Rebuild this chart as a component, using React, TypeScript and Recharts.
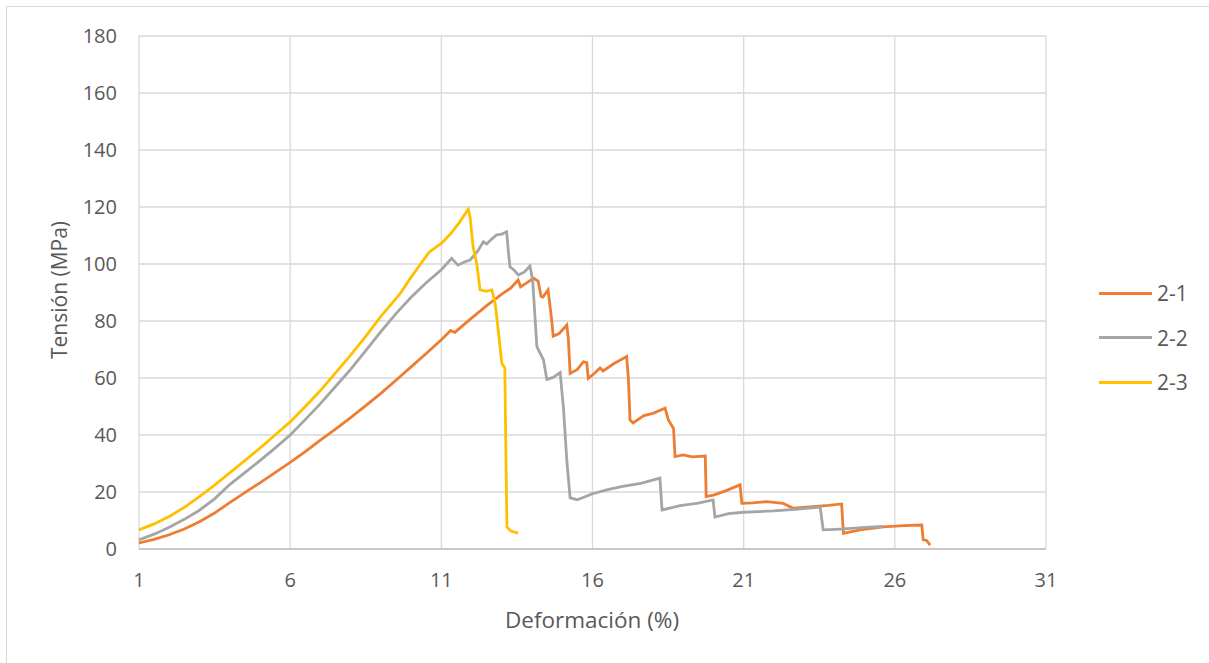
import React from 'react';
import { LineChart, Line, XAxis, YAxis, CartesianGrid } from 'recharts';

// ensayo 2-1
const serie21 = [
  [1, 2.1], [1.5, 3.4], [2, 5.0], [2.5, 7.0], [3, 9.6], [3.5, 12.6], [4, 16.3],
  [4.5, 19.8], [5, 23.2], [5.5, 26.8], [6, 30.4], [6.5, 34.2], [7, 38.2],
  [7.5, 42.1], [8, 46.1], [8.5, 50.3], [9, 54.6], [9.5, 59.2], [10, 63.9],
  [10.5, 68.6], [11, 73.4], [11.3, 76.6], [11.45, 76.0], [11.6, 77.4],
  [12, 81.0], [12.5, 85.4], [13, 89.4], [13.3, 91.6], [13.54, 94.4],
  [13.62, 92.0], [13.8, 93.2], [14.05, 95.0], [14.2, 94.0], [14.3, 88.6],
  [14.36, 88.4], [14.53, 90.9], [14.65, 80.4], [14.7, 74.7], [14.9, 75.6],
  [15.15, 78.6], [15.2, 74.0], [15.26, 61.6], [15.5, 63.0], [15.7, 65.7],
  [15.81, 65.4], [15.86, 59.9], [16.05, 61.5], [16.25, 63.5], [16.35, 62.5],
  [16.7, 65.0], [17.13, 67.5], [17.19, 59.3], [17.24, 45.3], [17.34, 44.2],
  [17.7, 46.8], [18.0, 47.6], [18.4, 49.4], [18.51, 45.3], [18.68, 42.3],
  [18.73, 32.4], [19.0, 33.0], [19.3, 32.3], [19.73, 32.6], [19.76, 18.4],
  [20.0, 18.9], [20.4, 20.4], [20.88, 22.5], [20.94, 16.0], [21.3, 16.2],
  [21.76, 16.6], [22.31, 16.0], [22.64, 14.3], [23.2, 14.8], [23.8, 15.3],
  [24.24, 15.8], [24.3, 5.5], [24.9, 6.8], [25.62, 7.8], [26.3, 8.2],
  [26.89, 8.4], [26.94, 3.2], [27.05, 3.0], [27.17, 1.4],
];

// ensayo 2-2
const serie22 = [
  [1, 3.2], [1.5, 5.2], [2, 7.6], [2.5, 10.4], [3, 13.6], [3.5, 17.6],
  [4, 22.6], [4.5, 26.8], [5, 31.0], [5.5, 35.4], [6, 40.0], [6.5, 45.4],
  [7, 51.0], [7.5, 57.0], [8, 63.0], [8.5, 69.6], [9, 76.3], [9.5, 82.6],
  [10, 88.3], [10.5, 93.4], [11, 98.0], [11.34, 102.0], [11.55, 99.6],
  [11.78, 100.8], [11.95, 101.4], [12.2, 104.5], [12.39, 107.8], [12.5, 107.0],
  [12.65, 108.6], [12.83, 110.2], [13.0, 110.5], [13.16, 111.3], [13.22, 104.0],
  [13.27, 99.0], [13.4, 97.9], [13.55, 96.1], [13.75, 97.2], [13.93, 99.3],
  [14.02, 94.4], [14.16, 71.0], [14.38, 66.3], [14.49, 59.5], [14.7, 60.2],
  [14.93, 61.9], [15.04, 49.4], [15.15, 31.2], [15.26, 17.9], [15.5, 17.3],
  [16.0, 19.4], [16.5, 20.8], [17.0, 22.0], [17.6, 23.0], [18.23, 24.9],
  [18.3, 13.7], [18.9, 15.2], [19.5, 16.1], [19.99, 17.2], [20.05, 11.2],
  [20.5, 12.4], [21.0, 12.9], [22.0, 13.4], [22.8, 14.0], [23.53, 14.7],
  [23.63, 6.7], [24.2, 7.0], [24.9, 7.5], [25.6, 7.9],
];

// ensayo 2-3
const serie23 = [
  [1, 6.7], [1.5, 8.8], [2, 11.4], [2.5, 14.6], [3, 18.4], [3.5, 22.4],
  [4, 26.7], [4.5, 31.0], [5, 35.4], [5.5, 40.0], [6, 44.6], [6.5, 50.0],
  [7, 55.6], [7.5, 61.8], [8, 68.0], [8.5, 74.6], [9, 81.6], [9.63, 89.5],
  [10, 95.4], [10.6, 104.2], [11.01, 107.3], [11.3, 110.5], [11.6, 114.6],
  [11.89, 119.2], [11.95, 116.6], [12.05, 106.0], [12.17, 100.2], [12.28, 90.9],
  [12.5, 90.4], [12.67, 90.9], [12.78, 86.3], [12.9, 75.0], [13.0, 65.2],
  [13.1, 63.5], [13.13, 38.0], [13.17, 7.7], [13.3, 6.3], [13.54, 5.6],
];

const xTicks = [1, 6, 11, 16, 21, 26, 31];
const yTicks = [0, 20, 40, 60, 80, 100, 120, 140, 160, 180];

const series = [
  { name: '2-1', color: '#ED7D31', points: serie21 },
  { name: '2-2', color: '#A5A5A5', points: serie22 },
  { name: '2-3', color: '#FFC000', points: serie23 },
];

const font = '"Open Sans", "Noto Sans", sans-serif';
const tickStyle = { fill: '#595959', fontSize: 20, fontFamily: font };

export default function App() {
  return (
    <div style={{ position: 'absolute', left: 0, top: 0, width: 1209, height: 663, overflow: 'hidden', background: '#fff' }}>
      <div style={{ position: 'absolute', left: 6, top: 6, width: 1220, height: 680, border: '1px solid #d9d9d9' }} />
      <LineChart width={1209} height={663} margin={{ top: 36, right: 163, bottom: 74, left: 79 }}>
        <CartesianGrid stroke="#d9d9d9" strokeWidth={1.3} />
        <XAxis
          type="number"
          dataKey="x"
          domain={[1, 31]}
          ticks={xTicks}
          allowDuplicatedCategory={false}
          height={40}
          tickLine={false}
          tickSize={6}
          tickMargin={18}
          axisLine={{ stroke: '#bfbfbf', strokeWidth: 1.3 }}
          tick={tickStyle}
        />
        <YAxis
          type="number"
          domain={[0, 180]}
          ticks={yTicks}
          width={60}
          tickLine={false}
          axisLine={false}
          tickSize={6}
          tickMargin={16}
          tick={tickStyle}
        />
        {series.map((s) => (
          <Line
            key={s.name}
            name={s.name}
            data={s.points.map(([x, y]) => ({ x, y }))}
            dataKey="y"
            type="linear"
            stroke={s.color}
            strokeWidth={2.8}
            dot={false}
            isAnimationActive={false}
          />
        ))}
      </LineChart>
      <div style={{ position: 'absolute', left: 59, top: 290, transform: 'translate(-50%, -50%) rotate(-90deg)', whiteSpace: 'nowrap', fontFamily: font, fontSize: 21, color: '#595959' }}>
        Tensión (MPa)
      </div>
      <div style={{ position: 'absolute', left: 592, top: 619, transform: 'translate(-50%, -50%)', whiteSpace: 'nowrap', fontFamily: font, fontSize: 22.5, color: '#595959' }}>
        Deformación (%)
      </div>
      {series.map((s, i) => (
        <div key={s.name} style={{ position: 'absolute', left: 1099, top: 293 + i * 44.5, transform: 'translateY(-50%)', display: 'flex', alignItems: 'center', fontFamily: font, fontSize: 21, color: '#595959' }}>
          <div style={{ width: 53, height: 3, background: s.color, marginRight: 5 }} />
          <span>{s.name}</span>
        </div>
      ))}
    </div>
  );
}
